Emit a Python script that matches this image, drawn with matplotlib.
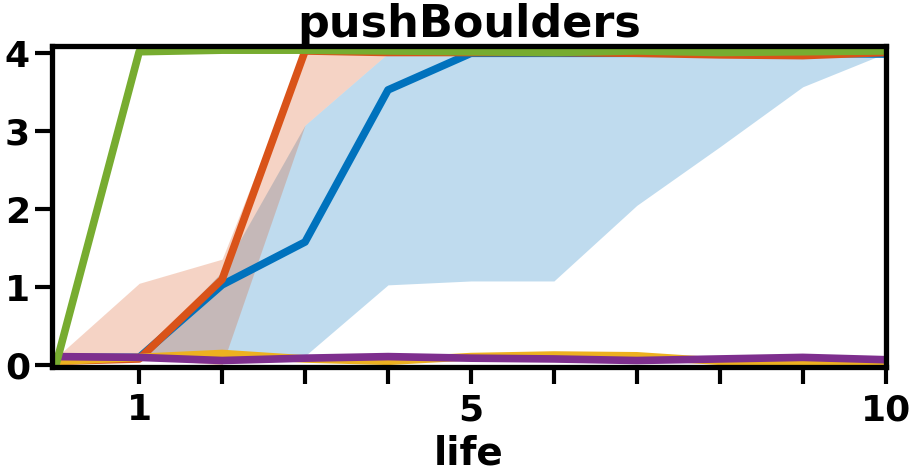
import matplotlib
matplotlib.use("Agg")
import matplotlib.pyplot as plt
import numpy as np

plt.rcParams["font.family"] = "DejaVu Sans"
plt.rcParams["font.weight"] = "bold"

life = np.arange(0, 11)

# mean curves
green = [0.02, 4.02, 4.04, 4.04, 4.03, 4.02, 4.01, 4.03, 4.01, 4.02, 4.03]
orange = [0.05, 0.08, 1.1, 4.03, 4.01, 4.01, 4.01, 4.0, 3.98, 3.97, 4.01]
blue = [0.1, 0.1, 1.03, 1.58, 3.53, 4.0, 4.0, 4.0, 4.0, 4.0, 3.99]
yellow = [0.05, 0.1, 0.15, 0.08, 0.05, 0.11, 0.13, 0.12, 0.05, 0.03, 0.02]
purple = [0.11, 0.1, 0.06, 0.09, 0.11, 0.09, 0.08, 0.06, 0.08, 0.1, 0.07]

# spread bands
orange_lo = [0.1, 0.1, 0.0, 3.08, 4.0, 4.0, 4.0, 4.0, 4.0, 4.0, 4.0]
orange_hi = [0.1, 1.05, 1.36, 4.05, 4.05, 4.05, 4.05, 4.05, 4.05, 4.05, 4.05]
blue_lo = [0.1, 0.1, 0.1, 0.12, 1.03, 1.08, 1.08, 2.05, 2.8, 3.57, 4.0]
blue_hi = [0.1, 0.1, 1.2, 3.08, 4.0, 4.0, 4.0, 4.0, 4.0, 4.0, 4.0]

c_green = "#77ac30"
c_orange = "#d95319"
c_blue = "#0072bd"
c_yellow = "#edb120"
c_purple = "#7e2f8e"

fig, ax = plt.subplots(figsize=(9.14, 4.72), dpi=100)
fig.subplots_adjust(left=0.057, right=0.969, bottom=0.223, top=0.902)

ax.fill_between(life, blue_lo, blue_hi, color=c_blue, alpha=0.25, lw=0)
ax.fill_between(life, orange_lo, orange_hi, color=c_orange, alpha=0.25, lw=0)

lw = 5.5
ax.plot(life, blue, color=c_blue, lw=lw)
ax.plot(life, orange, color=c_orange, lw=lw)
ax.plot(life, yellow, color=c_yellow, lw=lw)
ax.plot(life, purple, color=c_purple, lw=lw)
ax.plot(life, green, color=c_green, lw=lw)

ax.set_xlim(-0.05, 10)
ax.set_ylim(-0.02, 4.09)
ax.set_xticks(np.arange(1, 11))
ax.set_xticklabels(["1", "", "", "", "5", "", "", "", "", "10"])
ax.set_yticks([0, 1, 2, 3, 4])

for s in ax.spines.values():
    s.set_linewidth(3.8)
ax.tick_params(width=3, length=12, labelsize=26, pad=4)
ax.tick_params(axis="x", pad=7)
for lab in ax.get_xticklabels() + ax.get_yticklabels():
    lab.set_fontweight("bold")

ax.set_xlabel("life", fontsize=28, fontweight="bold", labelpad=5)
ax.set_title("pushBoulders", fontsize=32, fontweight="bold", pad=1)

fig.savefig("out.png", dpi=100)
